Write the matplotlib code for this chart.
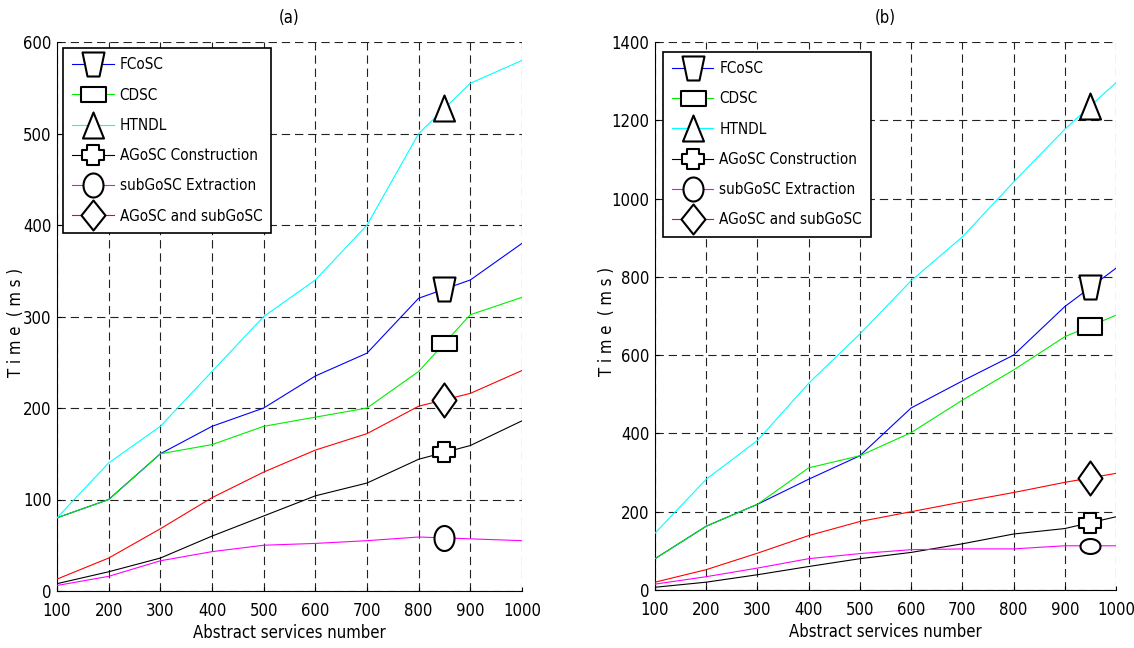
import numpy as np
import matplotlib
matplotlib.use("Agg")
from matplotlib import pyplot as plt
from matplotlib.path import Path
from matplotlib.lines import Line2D

plt.rcParams['font.family'] = ['DejaVu Sans']
plt.rcParams['font.stretch'] = 'condensed'
plt.rcParams['font.size'] = 12
plt.rcParams['lines.scale_dashes'] = False

# data
x = [100, 200, 300, 400, 500, 600, 700, 800, 900, 1000]
labels = ["FCoSC", "CDSC", "HTNDL", "AGoSC Construction", "subGoSC Extraction", "AGoSC and subGoSC"]
colors = ["#0000ff", "#00ee00", "#00ffff", "#000000", "#ff00ff", "#ff0000"]

a_fcosc = [80, 100, 150, 180, 200, 235, 260, 320, 340, 380]
a_cdsc = [80, 100, 150, 160, 180, 190, 200, 240, 302, 321]
a_htndl = [80, 140, 180, 240, 300, 340, 400, 500, 555, 580]
a_constr = [8, 21, 36, 60, 82, 104, 118, 144, 159, 186]
a_extr = [6, 16, 33, 43, 50, 52, 55, 59, 57, 55]
a_both = [13, 36, 68, 102, 130, 154, 172, 202, 216, 241]

b_fcosc = [80, 163, 219, 283, 343, 465, 534, 600, 724, 822]
b_cdsc = [80, 163, 219, 312, 343, 402, 485, 562, 647, 702]
b_htndl = [145, 283, 382, 528, 654, 790, 902, 1042, 1177, 1296]
b_constr = [7, 20, 39, 60, 80, 96, 118, 143, 157, 187]
b_extr = [15, 34, 56, 80, 93, 103, 105, 105, 113, 113]
b_both = [20, 52, 94, 139, 175, 200, 225, 249, 275, 298]


# marker shapes (width, height in px)
def poly(pts):
    pts = np.array(pts + [pts[0]], dtype=float)
    codes = [Path.MOVETO] + [Path.LINETO] * (len(pts) - 2) + [Path.CLOSEPOLY]
    return Path(pts, codes)


def trap(w, h, wb):
    return poly([(-w / 2, h / 2), (w / 2, h / 2), (wb / 2, -h / 2), (-wb / 2, -h / 2)])


def rect(w, h):
    return poly([(-w / 2, -h / 2), (w / 2, -h / 2), (w / 2, h / 2), (-w / 2, h / 2)])


def tri(w, h):
    return poly([(-w / 2, -h / 2), (w / 2, -h / 2), (0, h / 2)])


def cross(W, H, cw, ch):
    return poly([(-cw, H), (cw, H), (cw, ch), (W, ch), (W, -ch), (cw, -ch), (cw, -H),
                 (-cw, -H), (-cw, -ch), (-W, -ch), (-W, ch), (-cw, ch)])


def ellipse(w, h):
    t = np.linspace(0, 2 * np.pi, 60)[:-1]
    return poly(list(zip(w / 2 * np.cos(t), h / 2 * np.sin(t))))


def diamond(w, h):
    return poly([(0, h / 2), (w / 2, 0), (0, -h / 2), (-w / 2, 0)])


# (path, markersize in pt)
mk_a = [(trap(22, 24, 12), 24 * 0.72), (rect(25, 15), 25 * 0.72), (tri(21, 26), 26 * 0.72),
        (cross(11, 10, 6, 5), 22 * 0.72), (ellipse(20, 25), 25 * 0.72), (diamond(24, 34), 34 * 0.72)]
mk_b = [(trap(22, 24, 12), 24 * 0.72), (rect(24, 17), 24 * 0.72), (tri(21, 26), 26 * 0.72),
        (cross(11, 10, 6, 5), 22 * 0.72), (ellipse(20, 15), 20 * 0.72), (diamond(24, 34), 34 * 0.72)]
mk_leg = [(trap(22, 24, 12), 24 * 0.72), (rect(25, 15), 25 * 0.72), (tri(21, 26), 26 * 0.72),
          (cross(11, 10, 6, 5), 22 * 0.72), (ellipse(20, 24), 24 * 0.72), (diamond(24, 30), 30 * 0.72)]


def panel(ax, series, ymax, ystep, mx, markers, title, anchor, ylab_x):
    for ys, c, (m, ms) in zip(series, colors, markers):
        ax.plot(x, ys, color=c, lw=0.8, zorder=3)
        ax.plot([mx], [np.interp(mx, x, ys)], linestyle='none', marker=m, markersize=ms,
                mfc='white', mec='black', mew=1.5, zorder=4)
    ax.set_xlim(100, 1000)
    ax.set_ylim(0, ymax)
    ax.set_xticks(x)
    ax.set_yticks(np.arange(0, ymax + 1, ystep))
    ax.grid(True, color='#222222', linestyle=(0, (6, 3.5)), lw=0.8)
    ax.spines['top'].set_visible(False)
    ax.spines['right'].set_visible(False)
    ax.tick_params(direction='in', length=3, labelsize=12)
    ax.tick_params(axis='x', pad=8)
    ax.tick_params(axis='y', pad=4)
    ax.set_xlabel("Abstract services number", fontsize=12, labelpad=3)
    ax.set_ylabel("T i m e  ( m s )", fontsize=12)
    ax.yaxis.set_label_coords(ylab_x, 0.49)
    ax.set_title(title, fontsize=12, pad=14)
    handles = [Line2D([], [], color=c, lw=0.8, marker=m, markersize=ms, mfc='white',
                      mec='black', mew=1.5) for c, (m, ms) in zip(colors, mk_leg)]
    leg = ax.legend(handles, labels, loc='upper left', bbox_to_anchor=anchor, borderaxespad=0,
                    fancybox=False, framealpha=1, edgecolor='black', fontsize=11,
                    handlelength=2.7, handletextpad=0.4, labelspacing=1.0, borderpad=0.6)
    leg.get_frame().set_linewidth(1.2)
    leg.set_zorder(10)


fig = plt.figure(figsize=(11.34, 6.48), dpi=100)
ax1 = fig.add_axes([0.0503, 0.088, 0.410, 0.847])
ax2 = fig.add_axes([0.5776, 0.0895, 0.4065, 0.8457])

panel(ax1, [a_fcosc, a_cdsc, a_htndl, a_constr, a_extr, a_both], 600, 100, 850, mk_a, "(a)",
      (0.013, 0.989), -0.068)
panel(ax2, [b_fcosc, b_cdsc, b_htndl, b_constr, b_extr, b_both], 1400, 200, 950, mk_b, "(b)",
      (0.017, 0.982), -0.085)

fig.savefig("out.png", dpi=100)
